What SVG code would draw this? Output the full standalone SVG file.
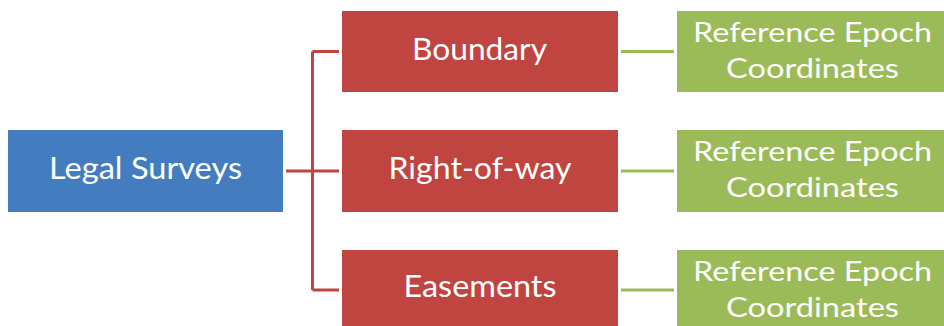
<svg xmlns="http://www.w3.org/2000/svg" width="944" height="326" viewBox="0 0 944 326">
<style>
.blue{fill:#437DBF}
.red{fill:#C0443F}
.green{fill:#9BBB59}
.t{font-family:Lato,"Open Sans","Liberation Sans",sans-serif;fill:#FFFFFF;text-anchor:middle}
.big{font-size:31px}
.sm{font-size:27px}
.cr{stroke:#C0443F;stroke-width:3;fill:none}
.cg{stroke:#9BBB59;stroke-width:3;fill:none}
</style>
<rect width="944" height="326" fill="#FFFFFF"/>
<g id="connectors">
<path class="cr" d="M286 171H339M312.5 51.5V290M312.5 51.5H339M312.5 290H339"/>
<path class="cg" d="M621 51.5H674M621 171H674M621 290H674"/>
</g>
<g id="legal-surveys">
<rect class="blue" x="8" y="130" width="275" height="82"/>
<text class="t big" x="145.5" y="179.3" textLength="193" lengthAdjust="spacingAndGlyphs">Legal Surveys</text>
</g>
<g id="boundary">
<rect class="red" x="342" y="11" width="276" height="81"/>
<text class="t big" x="479.5" y="60.3" textLength="135" lengthAdjust="spacingAndGlyphs">Boundary</text>
</g>
<g id="right-of-way">
<rect class="red" x="342" y="130" width="276" height="82"/>
<text class="t big" x="480" y="179.3" textLength="183" lengthAdjust="spacingAndGlyphs">Right-of-way</text>
</g>
<g id="easements">
<rect class="red" x="342" y="250" width="276" height="80"/>
<text class="t big" x="480" y="297.3" textLength="153" lengthAdjust="spacingAndGlyphs">Easements</text>
</g>
<g id="coords-1">
<rect class="green" x="677" y="11" width="271" height="81"/>
<text class="t sm" x="812.5" y="42.3" textLength="239" lengthAdjust="spacingAndGlyphs">Reference Epoch</text>
<text class="t sm" x="812.5" y="78" textLength="173" lengthAdjust="spacingAndGlyphs">Coordinates</text>
</g>
<g id="coords-2">
<rect class="green" x="677" y="130" width="271" height="82"/>
<text class="t sm" x="812.5" y="161.3" textLength="239" lengthAdjust="spacingAndGlyphs">Reference Epoch</text>
<text class="t sm" x="812.5" y="197" textLength="173" lengthAdjust="spacingAndGlyphs">Coordinates</text>
</g>
<g id="coords-3">
<rect class="green" x="677" y="250" width="271" height="80"/>
<text class="t sm" x="812.5" y="281.3" textLength="239" lengthAdjust="spacingAndGlyphs">Reference Epoch</text>
<text class="t sm" x="812.5" y="317" textLength="173" lengthAdjust="spacingAndGlyphs">Coordinates</text>
</g>
</svg>
